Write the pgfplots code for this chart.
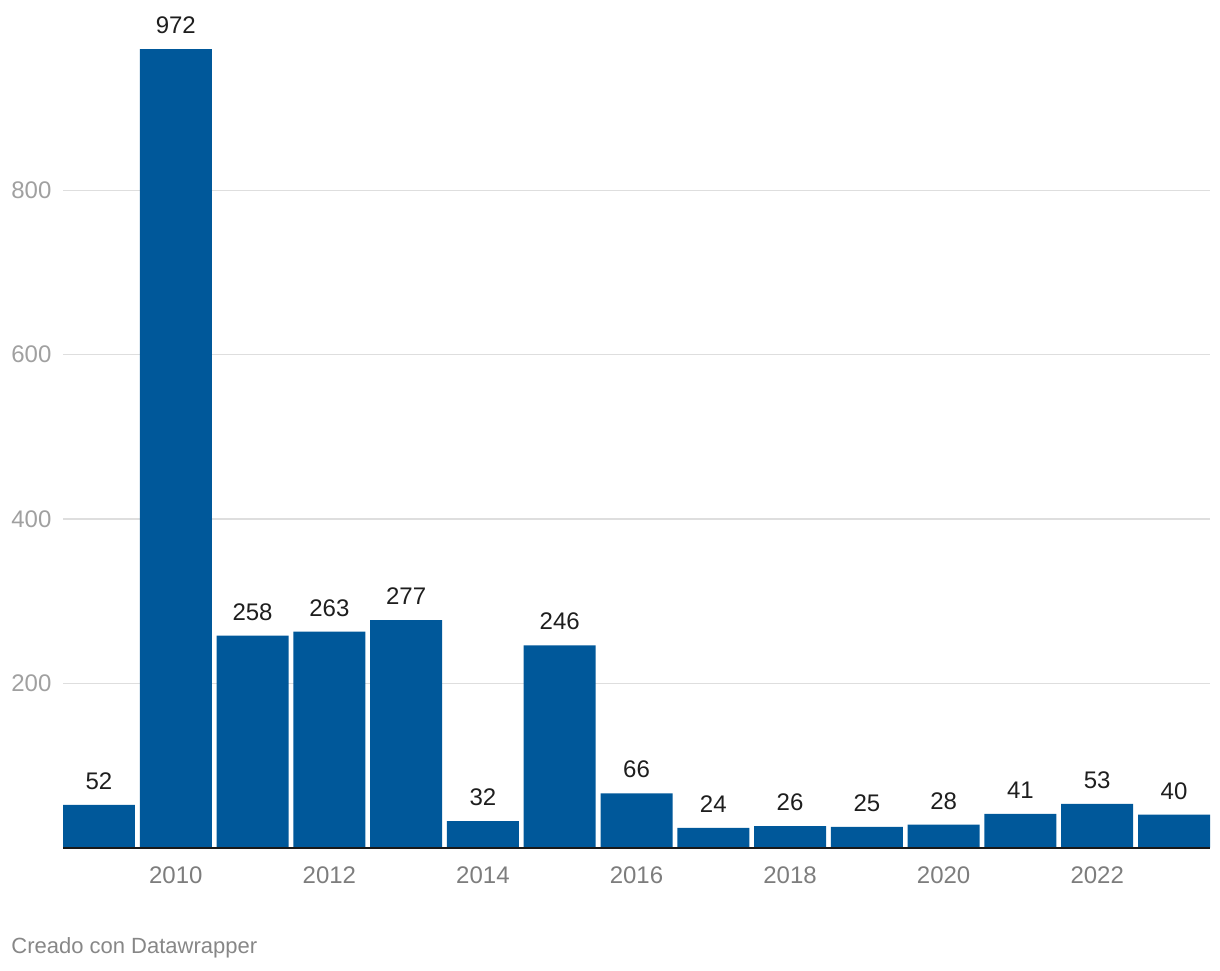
\documentclass[border=0pt]{standalone}
\usepackage{fontspec}
\setmainfont{Liberation Sans}
\usepackage{pgfplots}
\pgfplotsset{compat=1.18}
\definecolor{barblue}{RGB}{0,88,154}
\definecolor{gridgray}{RGB}{222,222,222}
\definecolor{xgray}{RGB}{125,125,125}
\definecolor{ygray}{RGB}{160,160,160}
\definecolor{creditgray}{RGB}{135,135,135}
\definecolor{valblack}{RGB}{30,30,30}
\begin{document}
\begin{tikzpicture}
\useasboundingbox (0,0) rectangle (610pt,485pt);
\begin{axis}[
  at={(31.5pt,61.25pt)}, anchor=south west,
  scale only axis, width=573.5pt, height=410.65pt,
  xmin=2008.53125, xmax=2023.46875, ymin=0, ymax=1000,
  clip=false,
  axis line style={draw=none},
  major tick length=0pt,
  xtick={2010,2012,...,2022},
  ytick={200,400,600,800},
  ymajorgrids,
  grid style={draw=gridgray, line width=0.6pt},
  /pgf/number format/assume math mode=true,
  /pgf/number format/1000 sep={},
  xticklabel style={font=\fontsize{12}{14}\selectfont, text=xgray, anchor=base, yshift=-17.75pt, inner sep=0pt},
  yticklabel style={font=\fontsize{12}{14}\selectfont, text=ygray, anchor=west, inner sep=0pt, xshift=-26pt},
  ybar, bar width=0.9375,
  nodes near coords,
  nodes near coords style={font=\fontsize{12}{14}\selectfont, text=valblack, anchor=base, yshift=7.75pt, inner sep=0pt},
]
\addplot[fill=barblue, draw=none] coordinates {
(2009,52) (2010,972) (2011,258) (2012,263) (2013,277) (2014,32) (2015,246)
(2016,66) (2017,24) (2018,26) (2019,25) (2020,28) (2021,41) (2022,53) (2023,40)};
\draw[color=black!90, line width=1pt] (axis cs:2008.53125,0) -- (axis cs:2023.46875,0);
\end{axis}
\node[anchor=base west, inner sep=0pt, font=\fontsize{11}{13}\selectfont, text=creditgray] at (5.5pt,8.5pt) {Creado con Datawrapper};
\end{tikzpicture}
\end{document}
